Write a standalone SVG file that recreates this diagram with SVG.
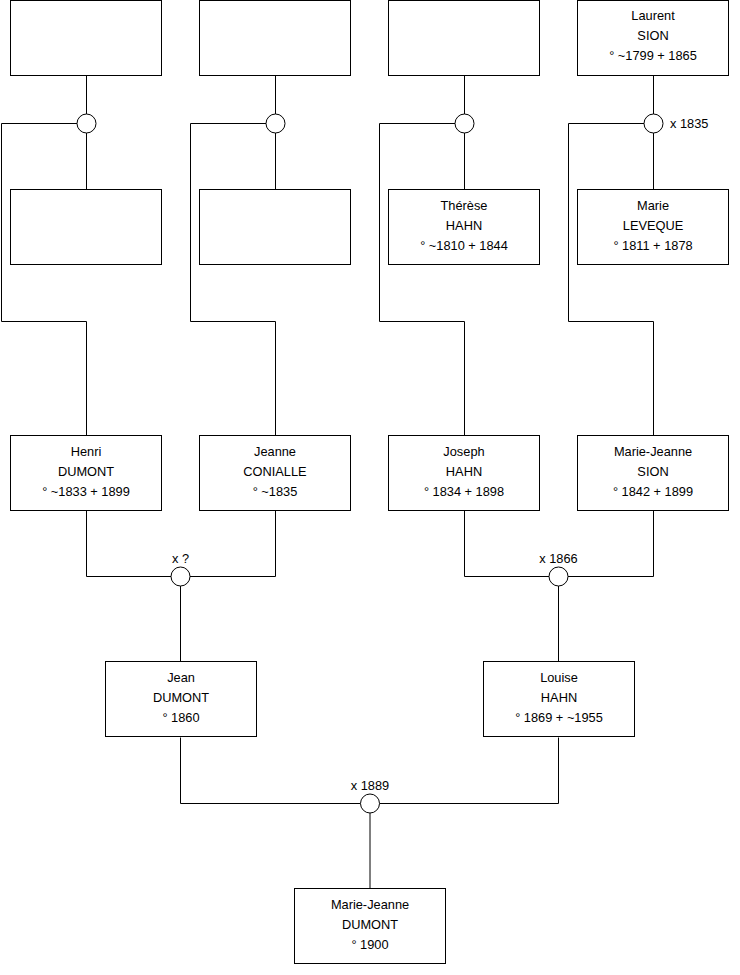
<svg xmlns="http://www.w3.org/2000/svg" width="740" height="975" viewBox="0 0 740 975">
<style>
.box{fill:#fff;stroke:#000;stroke-width:1}
.ring{fill:#fff;stroke:#000;stroke-width:1}
.ln{fill:none;stroke:#000;stroke-width:1}
text{font-family:"Liberation Sans",Arial,sans-serif;font-size:12.8px;fill:#000}
.c{text-anchor:middle}
</style>
<rect width="740" height="975" fill="#fff"/>
<g id="connectors">
<path class="ln" d="M86.5 75.5V114M86.5 133V189.5M77 123.5H1.5V321.5H86.5V435.5"/>
<path class="ln" d="M275.5 75.5V114M275.5 133V189.5M266 123.5H190.5V321.5H275.5V435.5"/>
<path class="ln" d="M464.5 75.5V114M464.5 133V189.5M455 123.5H379.5V321.5H464.5V435.5"/>
<path class="ln" d="M653.5 75.5V114M653.5 133V189.5M644 123.5H568.5V321.5H653.5V435.5"/>
<path class="ln" d="M86.5 510.5V576.5H171M190 576.5H275.5V510.5M180.5 586V661.5"/>
<path class="ln" d="M464.5 510.5V576.5H549M568 576.5H653.5V510.5M558.5 586V661.5"/>
<path class="ln" d="M180.5 737.5V803.5H360.5M379.5 803.5H558.5V737.5M370 813V888.5"/>
</g>
<g id="u1"><circle class="ring" cx="86.5" cy="123.5" r="9.5"/></g>
<g id="u2"><circle class="ring" cx="275.5" cy="123.5" r="9.5"/></g>
<g id="u3"><circle class="ring" cx="464.5" cy="123.5" r="9.5"/></g>
<g id="u4"><circle class="ring" cx="653.5" cy="123.5" r="9.5"/><text x="670" y="128">x 1835</text></g>
<g id="u5"><circle class="ring" cx="180.5" cy="576.5" r="9.5"/><text class="c" x="180.5" y="563">x ?</text></g>
<g id="u6"><circle class="ring" cx="558.5" cy="576.5" r="9.5"/><text class="c" x="558.5" y="563">x 1866</text></g>
<g id="u7"><circle class="ring" cx="370" cy="803.5" r="9.5"/><text class="c" x="370" y="790">x 1889</text></g>
<g id="p1"><rect class="box" x="10.5" y="0.5" width="151" height="75"/></g>
<g id="p2"><rect class="box" x="199.5" y="0.5" width="151" height="75"/></g>
<g id="p3"><rect class="box" x="388.5" y="0.5" width="151" height="75"/></g>
<g id="p4"><rect class="box" x="577.5" y="0.5" width="151" height="75"/>
<text class="c" x="653" y="20">Laurent</text><text class="c" x="653" y="40">SION</text><text class="c" x="653" y="60">° ~1799 + 1865</text></g>
<g id="p5"><rect class="box" x="10.5" y="189.5" width="151" height="75"/></g>
<g id="p6"><rect class="box" x="199.5" y="189.5" width="151" height="75"/></g>
<g id="p7"><rect class="box" x="388.5" y="189.5" width="151" height="75"/>
<text class="c" x="464" y="209.5">Thérèse</text><text class="c" x="464" y="229.5">HAHN</text><text class="c" x="464" y="249.5">° ~1810 + 1844</text></g>
<g id="p8"><rect class="box" x="577.5" y="189.5" width="151" height="75"/>
<text class="c" x="653" y="209.5">Marie</text><text class="c" x="653" y="229.5">LEVEQUE</text><text class="c" x="653" y="249.5">° 1811 + 1878</text></g>
<g id="p9"><rect class="box" x="10.5" y="435.5" width="151" height="75"/>
<text class="c" x="86" y="455.5">Henri</text><text class="c" x="86" y="475.5">DUMONT</text><text class="c" x="86" y="495.5">° ~1833 + 1899</text></g>
<g id="p10"><rect class="box" x="199.5" y="435.5" width="151" height="75"/>
<text class="c" x="275" y="455.5">Jeanne</text><text class="c" x="275" y="475.5">CONIALLE</text><text class="c" x="275" y="495.5">° ~1835</text></g>
<g id="p11"><rect class="box" x="388.5" y="435.5" width="151" height="75"/>
<text class="c" x="464" y="455.5">Joseph</text><text class="c" x="464" y="475.5">HAHN</text><text class="c" x="464" y="495.5">° 1834 + 1898</text></g>
<g id="p12"><rect class="box" x="577.5" y="435.5" width="151" height="75"/>
<text class="c" x="653" y="455.5">Marie-Jeanne</text><text class="c" x="653" y="475.5">SION</text><text class="c" x="653" y="495.5">° 1842 + 1899</text></g>
<g id="p13"><rect class="box" x="105.5" y="661.5" width="151" height="75"/>
<text class="c" x="181" y="681.5">Jean</text><text class="c" x="181" y="701.5">DUMONT</text><text class="c" x="181" y="721.5">° 1860</text></g>
<g id="p14"><rect class="box" x="483.5" y="661.5" width="151" height="75"/>
<text class="c" x="559" y="681.5">Louise</text><text class="c" x="559" y="701.5">HAHN</text><text class="c" x="559" y="721.5">° 1869 + ~1955</text></g>
<g id="p15"><rect class="box" x="294.5" y="888.5" width="151" height="75"/>
<text class="c" x="370" y="908.5">Marie-Jeanne</text><text class="c" x="370" y="928.5">DUMONT</text><text class="c" x="370" y="948.5">° 1900</text></g>
</svg>
